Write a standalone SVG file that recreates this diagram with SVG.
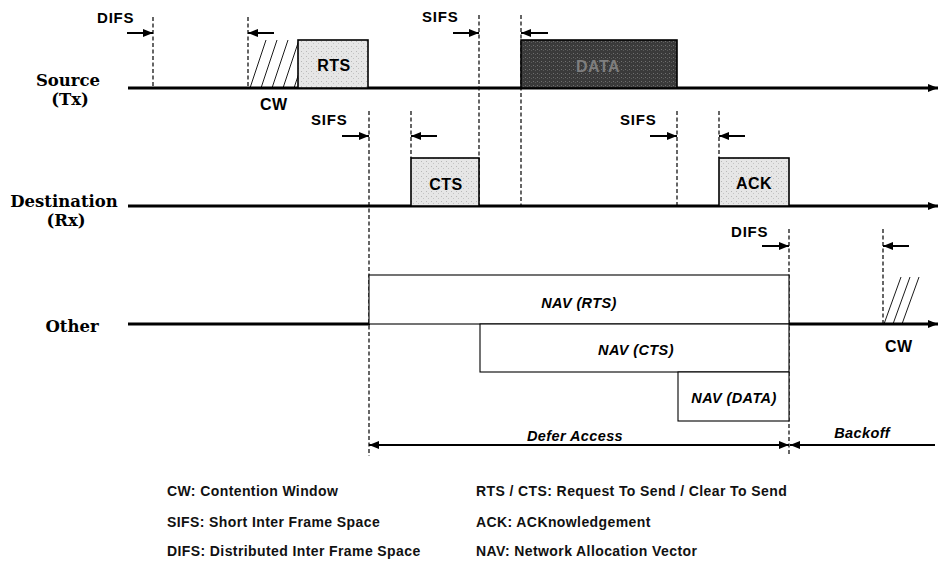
<svg xmlns="http://www.w3.org/2000/svg" width="940" height="564" viewBox="0 0 940 564">
<style>
.axis{stroke:#000;stroke-width:3;fill:none}
.dash{stroke:#000;stroke-width:1.2;stroke-dasharray:4 2.5;fill:none}
.tarr{stroke:#000;stroke-width:2;fill:none}
.hatch{stroke:#000;stroke-width:0.9;fill:none}
.box{stroke:#000;stroke-width:1.6}
.nav{fill:#fff;stroke:#000;stroke-width:1.1}
.row{font-family:"DejaVu Serif","Liberation Serif",serif;font-weight:bold;font-size:16.5px;fill:#000}
.tl{font-family:"Liberation Sans",Arial,sans-serif;font-weight:bold;font-size:15px;letter-spacing:0.8px;fill:#000}
.bl{font-family:"Liberation Sans",Arial,sans-serif;font-weight:bold;font-size:16px;letter-spacing:0.5px;fill:#000}
.nl{font-family:"Liberation Sans",Arial,sans-serif;font-weight:bold;font-style:italic;font-size:14.5px;letter-spacing:0.4px;fill:#000}
.lg{font-family:"Liberation Sans",Arial,sans-serif;font-weight:bold;font-size:14px;letter-spacing:0.4px;fill:#111}
</style>
<defs>
<marker id="ah" markerUnits="userSpaceOnUse" markerWidth="10" markerHeight="8" refX="10" refY="4" orient="auto"><path d="M0,0 L10,4 L0,8 z" fill="#000"/></marker>
<marker id="ahs" markerUnits="userSpaceOnUse" markerWidth="10" markerHeight="8" refX="10" refY="4" orient="auto-start-reverse"><path d="M0,0 L10,4 L0,8 z" fill="#000"/></marker>
<pattern id="light" width="5" height="5" patternUnits="userSpaceOnUse"><rect width="5" height="5" fill="#e6e6e6"/><rect x="1" y="1" width="1" height="1" fill="#b8b8b8"/><rect x="3" y="3" width="1" height="1" fill="#c4c4c4"/></pattern>
<pattern id="dark" width="4" height="4" patternUnits="userSpaceOnUse"><rect width="4" height="4" fill="#3a3a3a"/><rect x="1" y="1" width="1" height="1" fill="#707070"/><rect x="3" y="2" width="1" height="1" fill="#5a5a5a"/></pattern>
<clipPath id="cw1"><rect x="248" y="40" width="50" height="48"/></clipPath>
<clipPath id="cw2"><rect x="883" y="276" width="40" height="48"/></clipPath>
</defs>

<g id="row-labels">
<text class="row" x="68" y="86" text-anchor="middle">Source</text>
<text class="row" x="70" y="105" text-anchor="middle">(Tx)</text>
<text class="row" x="64" y="207" text-anchor="middle" font-size="17">Destination</text>
<text class="row" x="66" y="226" text-anchor="middle">(Rx)</text>
<text class="row" x="72" y="332" text-anchor="middle">Other</text>
</g>

<g id="connectors">
<line class="axis" x1="128" y1="88" x2="938" y2="88" marker-end="url(#ah)"/>
<line class="axis" x1="128" y1="206" x2="938" y2="206" marker-end="url(#ah)"/>
<line class="axis" x1="128" y1="324" x2="370" y2="324"/>
<line class="axis" x1="789" y1="324" x2="938" y2="324" marker-end="url(#ah)"/>
<line class="dash" x1="153" y1="17" x2="153" y2="88"/>
<line class="dash" x1="248" y1="17" x2="248" y2="88"/>
<line class="dash" x1="479" y1="15" x2="479" y2="206"/>
<line class="dash" x1="521" y1="15" x2="521" y2="206"/>
<line class="dash" x1="369" y1="111" x2="369" y2="456"/>
<line class="dash" x1="411" y1="111" x2="411" y2="158"/>
<line class="dash" x1="677" y1="111" x2="677" y2="206"/>
<line class="dash" x1="719" y1="111" x2="719" y2="158"/>
<line class="dash" x1="789" y1="229" x2="789" y2="456"/>
<line class="dash" x1="883" y1="229" x2="883" y2="324"/>
<line class="tarr" x1="127" y1="33" x2="153" y2="33" marker-end="url(#ah)"/>
<line class="tarr" x1="274" y1="33" x2="248" y2="33" marker-end="url(#ah)"/>
<line class="tarr" x1="453" y1="33" x2="479" y2="33" marker-end="url(#ah)"/>
<line class="tarr" x1="548" y1="33" x2="521" y2="33" marker-end="url(#ah)"/>
<line class="tarr" x1="342" y1="136" x2="369" y2="136" marker-end="url(#ah)"/>
<line class="tarr" x1="437" y1="136" x2="411" y2="136" marker-end="url(#ah)"/>
<line class="tarr" x1="650" y1="136" x2="677" y2="136" marker-end="url(#ah)"/>
<line class="tarr" x1="745" y1="136" x2="719" y2="136" marker-end="url(#ah)"/>
<line class="tarr" x1="762" y1="246" x2="789" y2="246" marker-end="url(#ah)"/>
<line class="tarr" x1="909" y1="246" x2="883" y2="246" marker-end="url(#ah)"/>
<line class="tarr" x1="369" y1="445" x2="789" y2="445" marker-start="url(#ahs)" marker-end="url(#ah)"/>
<line class="tarr" x1="790" y1="445" x2="935" y2="445" marker-start="url(#ahs)"/>
</g>

<g id="timing-labels">
<text class="tl" x="97" y="23">DIFS</text>
<text class="tl" x="422" y="22">SIFS</text>
<text class="tl" x="311" y="125">SIFS</text>
<text class="tl" x="620" y="125">SIFS</text>
<text class="tl" x="731" y="237">DIFS</text>
<text class="bl" x="260" y="110">CW</text>
<text class="bl" x="885" y="352">CW</text>
</g>

<g id="cw-source">
<g clip-path="url(#cw1)">
<line class="hatch" x1="250" y1="88" x2="266" y2="40"/>
<line class="hatch" x1="261" y1="88" x2="277" y2="40"/>
<line class="hatch" x1="272" y1="88" x2="288" y2="40"/>
<line class="hatch" x1="283" y1="88" x2="299" y2="40"/>
<line class="hatch" x1="294" y1="88" x2="310" y2="40"/>
</g>
</g>

<g id="rts">
<rect class="box" x="298" y="40" width="70" height="48" fill="url(#light)"/>
<text class="bl" x="334" y="71" text-anchor="middle" font-size="17">RTS</text>
</g>

<g id="data">
<rect class="box" x="521" y="40" width="156" height="48" fill="url(#dark)"/>
<text class="bl" x="598" y="72" text-anchor="middle" font-size="17" style="fill:#7e7e7e">DATA</text>
</g>

<g id="cts">
<rect class="box" x="411" y="158" width="68" height="48" fill="url(#light)"/>
<text class="bl" x="446" y="190" text-anchor="middle" font-size="17">CTS</text>
</g>

<g id="ack">
<rect class="box" x="719" y="158" width="70" height="48" fill="url(#light)"/>
<text class="bl" x="754" y="189" text-anchor="middle" font-size="17">ACK</text>
</g>

<g id="cw-other">
<g clip-path="url(#cw2)">
<line class="hatch" x1="884" y1="324" x2="901" y2="277"/>
<line class="hatch" x1="893" y1="324" x2="910" y2="277"/>
<line class="hatch" x1="902" y1="324" x2="919" y2="277"/>
</g>
</g>

<g id="nav-rts">
<rect class="nav" x="369" y="275" width="420" height="49"/>
<text class="nl" x="579" y="308" text-anchor="middle">NAV (RTS)</text>
</g>
<g id="nav-cts">
<rect class="nav" x="480" y="324" width="309" height="48"/>
<text class="nl" x="636" y="355" text-anchor="middle">NAV (CTS)</text>
</g>
<g id="nav-data">
<rect class="nav" x="678" y="372" width="111" height="49"/>
<text class="nl" x="734" y="403" text-anchor="middle">NAV (DATA)</text>
</g>

<g id="periods">
<text class="nl" x="575" y="441" text-anchor="middle">Defer Access</text>
<text class="nl" x="862" y="438" text-anchor="middle">Backoff</text>
</g>

<g id="legend">
<text class="lg" x="167" y="496">CW: Contention Window</text>
<text class="lg" x="167" y="527">SIFS: Short Inter Frame Space</text>
<text class="lg" x="167" y="556">DIFS: Distributed Inter Frame Space</text>
<text class="lg" x="476" y="496">RTS / CTS: Request To Send / Clear To Send</text>
<text class="lg" x="476" y="527">ACK: ACKnowledgement</text>
<text class="lg" x="476" y="556">NAV: Network Allocation Vector</text>
</g>
</svg>
